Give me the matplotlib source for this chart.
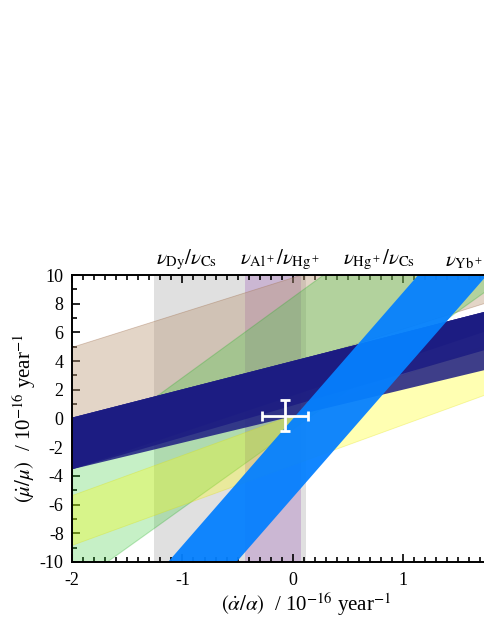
import numpy as np
import matplotlib
matplotlib.use('Agg')
import matplotlib.pyplot as plt
from matplotlib.ticker import MultipleLocator
import matplotlib.transforms as mtransforms

plt.rcParams['font.family'] = ['Liberation Serif', 'DejaVu Serif']
plt.rcParams['mathtext.fontset'] = 'stix'
plt.rcParams['axes.unicode_minus'] = False

# band edges, values of mu-dot/mu at alpha-dot/alpha = -2 and 2
x_ends = [-2, 2]
beige_top = [5.0, 14.7]
beige_bot = [-1.0, 8.7]
green_top = [-2.7, 19.7]
green_bot = [-11.7, 10.3]
yellow_top = [-5.33, 5.87]
yellow_bot = [-8.8, 2.4]
navy_top = [0.06, 7.95]
navy_bots = [[-3.54, 6.72], [-3.54, 5.35], [-3.54, 3.86]]

# steep band (Yb+ E3 / Cs): alpha-dot/alpha at mu-dot/mu = -10 and 10
y_ends = [-10, 10]
blue_left = [-1.13, 1.136]
blue_right = [-0.51, 1.76]

# vertical bands: alpha-dot/alpha limits
dy_cs = [-1.26, 0.12]
al_hg = [-0.43, 0.07]

# combined constraint
pt_x, pt_y = -0.07, 0.2
pt_xerr, pt_yerr = 0.21, 1.1

top_labels = [r'$\nu_{\mathrm{Dy}}/\nu_{\mathrm{Cs}}$',
	r'$\nu_{\mathrm{Al^+}}/\nu_{\mathrm{Hg^+}}$',
	r'$\nu_{\mathrm{Hg^+}}/\nu_{\mathrm{Cs}}$',
	r'$\nu_{\mathrm{Yb^+}\,\mathrm{E3}}/\nu_{\mathrm{Cs}}$']
top_label_x = [-0.96, -0.12, 0.78, 1.38]
top_label_ha = ['center', 'center', 'center', 'left']

fig = plt.figure(figsize=(4.85, 6.27), dpi=100)
ax = fig.add_axes([0.1485, 0.1037, 0.9105, 0.4577])

ax.axvspan(dy_cs[0], dy_cs[1], color='#e0e0e0', lw=0, zorder=1)
ax.axvspan(al_hg[0], al_hg[1], color='#9b59b6', alpha=0.3, lw=0, zorder=1.1)

ax.fill_between(x_ends, beige_bot, beige_top, facecolor='#b99675', alpha=0.4,
	edgecolor='#a07050', lw=0.6, zorder=2)
ax.fill_between(x_ends, green_bot, green_top, facecolor='#33cc33', alpha=0.28,
	edgecolor='#22aa22', lw=0.8, zorder=3)
ax.fill_between(x_ends, yellow_bot, yellow_top, facecolor='#ffff00', alpha=0.3,
	edgecolor='#dddd00', lw=0.6, zorder=4)
for nb in navy_bots:
	ax.fill_between(x_ends, nb, navy_top, facecolor='#1c1c82', alpha=0.85,
		lw=0, zorder=5)
ax.fill_betweenx(y_ends, blue_left, blue_right, facecolor='#0580ff', alpha=0.95,
	lw=0, zorder=6)

ax.errorbar(pt_x, pt_y, xerr=pt_xerr, yerr=pt_yerr, color='white', lw=2,
	capsize=3.5, capthick=2, zorder=7)

ax.set_xlim(-2, 2)
ax.set_ylim(-10, 10)
ax.xaxis.set_major_locator(MultipleLocator(1))
ax.xaxis.set_minor_locator(MultipleLocator(0.1))
ax.yaxis.set_major_locator(MultipleLocator(2))
ax.yaxis.set_minor_locator(MultipleLocator(1))
ax.tick_params(which='both', direction='in', top=True, right=True,
	labelsize=13, width=1.2)
ax.tick_params(which='major', length=6)
ax.tick_params(which='minor', length=3.5)
ax.tick_params(axis='x', pad=7)
ax.tick_params(axis='y', pad=6)
for s in ax.spines.values():
	s.set_linewidth(1.4)
	s.set_zorder(10)

ax.set_xlabel(r'$(\dot{\alpha}/\alpha)$  / 10$^{-16}$ year$^{-1}$', fontsize=15)
ax.xaxis.set_label_coords(0.53, -0.1)
ax.set_ylabel(r'$(\dot{\mu}/\mu)$  / 10$^{-16}$ year$^{-1}$', fontsize=15)
ax.yaxis.set_label_coords(-0.077, 0.5)

trans = mtransforms.blended_transform_factory(ax.transData, ax.transAxes)
for lab, lx, ha in zip(top_labels, top_label_x, top_label_ha):
	ax.text(lx, 1.012, lab, transform=trans, ha=ha, va='bottom', fontsize=15)

fig.savefig('out.png', dpi=100)
